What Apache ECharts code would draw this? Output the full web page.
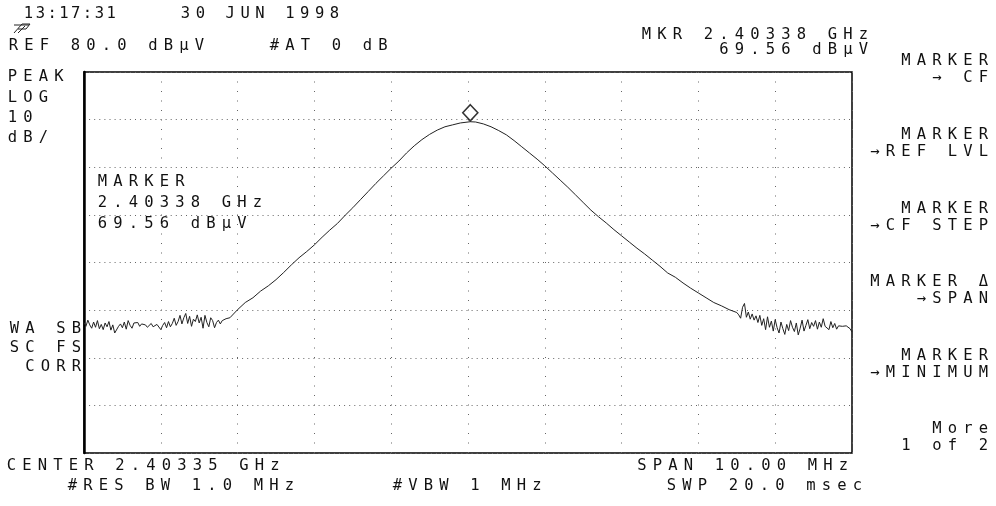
<!DOCTYPE html>
<html><head><meta charset="utf-8">
<script src="https://cdn.jsdelivr.net/npm/echarts@6/dist/echarts.min.js"></script>
<style>html,body{margin:0;padding:0;background:#fff}#c{width:996px;height:506px}</style>
</head><body><div id="c"></div><script>
// Frequency offset from center (MHz), center = 2.40335 GHz, span 10 MHz
const offsetMHz = [
 -5.000,-4.975,-4.950,-4.925,-4.900,-4.875,-4.850,-4.825,-4.800,-4.775,
 -4.750,-4.725,-4.700,-4.675,-4.650,-4.625,-4.600,-4.575,-4.550,-4.525,
 -4.500,-4.475,-4.450,-4.425,-4.400,-4.375,-4.350,-4.325,-4.300,-4.275,
 -4.250,-4.225,-4.200,-4.175,-4.150,-4.125,-4.100,-4.075,-4.050,-4.025,
 -4.000,-3.975,-3.950,-3.925,-3.900,-3.875,-3.850,-3.825,-3.800,-3.775,
 -3.750,-3.725,-3.700,-3.675,-3.650,-3.625,-3.600,-3.575,-3.550,-3.525,
 -3.500,-3.475,-3.450,-3.425,-3.400,-3.375,-3.350,-3.325,-3.300,-3.275,
 -3.250,-3.225,-3.200,-3.175,-3.150,-3.125,
 -3.10,-3.00,-2.90,-2.80,-2.70,-2.60,-2.50,-2.40,-2.30,-2.20,-2.10,-2.00,-1.90,-1.80,-1.70,-1.60,-1.50,-1.40,-1.30,-1.20,
 -1.10,-1.00,-0.90,-0.80,-0.70,-0.60,-0.50,-0.40,-0.30,-0.20,-0.10,0.00,0.03,0.10,0.20,0.30,0.40,0.50,0.60,0.70,0.80,
 0.90,1.00,1.10,1.20,1.30,1.40,1.50,1.60,1.70,1.80,1.90,2.00,2.10,2.20,2.30,2.40,2.50,2.60,2.70,2.80,2.90,3.00,3.10,
 3.20,3.30,3.40,3.50,
 3.525,3.550,3.575,3.600,3.625,3.650,3.675,3.700,3.725,3.750,
 3.775,3.800,3.825,3.850,3.875,3.900,3.925,3.950,3.975,4.000,
 4.025,4.050,4.075,4.100,4.125,4.150,4.175,4.200,4.225,4.250,
 4.275,4.300,4.325,4.350,4.375,4.400,4.425,4.450,4.475,4.500,
 4.525,4.550,4.575,4.600,4.625,4.650,4.675,4.700,4.725,4.750,
 4.775,4.800,4.825,4.850,4.875,4.900,4.925,4.950,4.975,5.000
];
// Trace level (dBµV)
const levelDbuV = [
 27.4,26.6,27.9,26.9,26.2,27.5,26.4,27.8,26.1,27.0,
 25.9,27.3,26.5,27.6,25.8,26.9,25.2,24.8,26.6,27.1,
 26.3,27.5,26.0,27.8,26.8,26.2,27.3,26.9,27.4,26.6,
 27.1,26.7,26.9,26.4,26.8,27.2,26.5,26.1,27.0,26.6,
 25.9,26.8,27.4,26.3,27.6,26.5,27.2,28.3,26.8,27.6,
 28.9,27.1,28.4,29.3,27.2,28.7,26.6,28.1,27.6,29.0,
 27.3,28.5,26.2,28.9,27.4,26.5,28.4,27.8,26.3,27.4,
 27.9,27.1,27.8,28.0,28.2,28.1,
 28.4,30.1,31.6,32.6,34.0,35.1,36.4,37.9,39.5,41.0,42.3,43.7,45.3,46.8,48.2,49.9,51.5,53.2,54.9,56.6,
 58.2,59.8,61.3,63.0,64.5,65.8,66.9,67.8,68.5,68.9,69.3,69.5,69.56,69.5,69.1,68.5,67.7,66.8,65.6,64.3,63.0,
 61.7,60.3,58.8,57.3,55.8,54.2,52.6,51.0,49.6,48.3,46.9,45.6,44.3,43.0,41.8,40.5,39.2,37.8,36.9,35.7,34.6,33.6,32.6,
 31.6,30.9,30.1,29.5,
 29.0,28.3,30.6,31.4,28.5,29.6,28.1,29.2,27.9,28.8,
 27.4,28.9,26.8,28.2,25.9,28.6,26.4,27.7,25.6,28.0,
 26.3,25.2,27.5,26.1,24.9,27.0,25.7,27.8,26.4,25.5,
 27.3,24.8,26.2,27.9,25.6,26.8,28.0,26.1,27.4,26.6,
 27.8,26.0,27.5,26.4,28.2,26.6,27.0,25.9,27.6,26.3,
 27.2,26.0,26.7,26.4,26.6,26.5,26.7,26.3,26.1,25.4
];
const markerOffsetMHz = [0.03];
const markerLevel = [69.56];
const xMin = -5, xMax = 5, xStep = 1;      // 10 divisions
const yMin = 0, yMax = 80, yStep = 10;     // REF 80.0 dBµV, 10 dB/div

// Annotation texts
const timeText = '13:17:31';
const dateText = '30 JUN 1998';
const refText = 'REF 80.0 dBµV';
const attText = '#AT 0 dB';
const mkrTop = ['MKR 2.40338 GHz', '69.56 dBµV'];
const leftInfo = ['PEAK', 'LOG', '10', 'dB/'];
const markerBox = ['MARKER', '2.40338 GHz', '69.56 dBµV'];
const leftLower = ['WA SB', 'SC FS', 'CORR'];
const softkeys = [['MARKER', '→ CF'], ['MARKER', '→REF LVL'], ['MARKER', '→CF STEP'], ['MARKER Δ', '→SPAN'], ['MARKER', '→MINIMUM'], ['More', '1 of 2']];
const bottomLeft = ['CENTER 2.40335 GHz', '#RES BW 1.0 MHz'];
const vbwText = '#VBW 1 MHz';
const bottomRight = ['SPAN 10.00 MHz', 'SWP 20.0 msec'];

const FONT = 'DejaVu Sans Mono';
const FS = 15.5;
const GLYPH = 9;
function mono(str, gx, cy, pitch, right) {
  const tokens = str.split('').map(ch => '{c|' + ch + '}').join('');
  const pad = (pitch - GLYPH) / 2;
  return {
    type: 'text', x: right ? gx + pad : gx - pad, y: cy, silent: true,
    style: {
      text: tokens, fill: '#111', font: FS + 'px "' + FONT + '"',
      textAlign: right ? 'right' : 'left', align: right ? 'right' : 'left',
      textVerticalAlign: 'middle', verticalAlign: 'middle',
      rich: { c: { width: pitch, align: 'center', fontSize: FS, fontFamily: FONT, fill: '#111', lineHeight: 15 } }
    }
  };
}

const P = 15.5;
const graphics = [];
graphics.push(mono(timeText, 24, 14, 11.8, false));
graphics.push(mono(dateText, 181, 14, 14.9, false));
graphics.push(mono(refText, 9, 46, P, false));
graphics.push(mono(attText, 270, 46, P, false));
graphics.push(mono(mkrTop[0], 868, 35, P, true));
graphics.push(mono(mkrTop[1], 868, 50, P, true));
[77, 98, 118, 138].forEach((y, i) => graphics.push(mono(leftInfo[i], 8, y, P, false)));
[182, 203, 224].forEach((y, i) => graphics.push(mono(markerBox[i], 98, y, P, false)));
[329, 348, 367].forEach((y, i) => graphics.push(mono(leftLower[i], 81, y, P, true)));
const skY = [61, 135, 209, 282, 356, 429];
softkeys.forEach((pair, i) => {
  graphics.push(mono(pair[0], 988, skY[i], P, true));
  graphics.push(mono(pair[1], 988, skY[i] + 17, P, true));
});
graphics.push(mono(bottomLeft[0], 7, 466, P, false));
graphics.push(mono(bottomLeft[1], 68, 486, P, false));
graphics.push(mono(vbwText, 393, 486, P, false));
graphics.push(mono(bottomRight[0], 848, 466, P, true));
graphics.push(mono(bottomRight[1], 862, 486, P, true));
// small instrument logo
graphics.push({ type: 'polyline', silent: true, shape: { points: [[14, 33], [22, 24], [30, 24], [26, 29], [18, 29]] }, style: { stroke: '#222', lineWidth: 1, fill: null } });
graphics.push({ type: 'line', silent: true, shape: { x1: 18, y1: 33, x2: 25, y2: 26 }, style: { stroke: '#222', lineWidth: 1 } });
graphics.push({ type: 'line', silent: true, shape: { x1: 14, y1: 25, x2: 29, y2: 25 }, style: { stroke: '#222', lineWidth: 1 } });

const chart = echarts.init(document.getElementById('c'));
chart.setOption({
  animation: false,
  backgroundColor: '#fff',
  grid: { left: 84, right: 144, top: 72, bottom: 53, show: true, borderColor: '#000', borderWidth: 1.5, backgroundColor: 'transparent' },
  xAxis: {
    type: 'value', min: xMin, max: xMax, interval: xStep,
    axisLabel: { show: false }, axisTick: { show: false }, axisLine: { show: false },
    splitLine: { show: true, lineStyle: { color: '#666', width: 1, type: [1, 8.5] } }
  },
  yAxis: {
    type: 'value', min: yMin, max: yMax, interval: yStep,
    axisLabel: { show: false }, axisTick: { show: false },
    axisLine: { show: true, onZero: false, lineStyle: { color: '#000', width: 2.5 } },
    splitLine: { show: true, lineStyle: { color: '#666', width: 1, type: [1, 4.1] } }
  },
  graphic: graphics,
  series: [
    {
      type: 'line', data: offsetMHz.map((f, i) => [f, levelDbuV[i]]),
      showSymbol: false, lineStyle: { color: '#222', width: 1 }, z: 3
    },
    {
      type: 'scatter', data: markerOffsetMHz.map((f, i) => [f, markerLevel[i]]),
      symbol: 'diamond', symbolSize: [15, 16], symbolOffset: [0, -9],
      itemStyle: { color: '#fff', borderColor: '#000', borderWidth: 1.6 }, z: 4
    }
  ]
});
</script></body></html>
